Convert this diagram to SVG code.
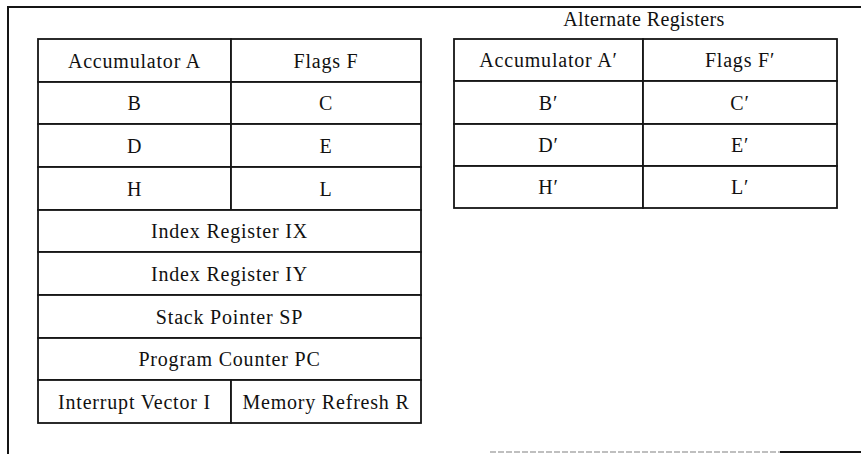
<svg xmlns="http://www.w3.org/2000/svg" width="861" height="454" viewBox="0 0 861 454">
<style>
  .cell { fill: #fff; stroke: #151515; stroke-width: 1.8; }
  .lbl { font-family: "Liberation Serif", "Times New Roman", serif; font-size: 20px; letter-spacing: 0.8px; fill: #111; text-anchor: middle; }
  .frame { fill: none; stroke: #151515; stroke-width: 2; }
</style>
<rect x="0" y="0" width="861" height="454" fill="#fff"/>
<g id="frame">
  <path class="frame" d="M8,454 V7 H861"/>
  <line x1="490" y1="452" x2="780" y2="452" stroke="#aaa" stroke-width="1.5" stroke-dasharray="6 2"/>
  <line x1="780" y1="452" x2="861" y2="452" stroke="#151515" stroke-width="2"/>
</g>
<g id="main-registers">
  <g id="reg-A"><rect class="cell" x="38" y="39" width="193" height="43"/><text class="lbl" x="134.5" y="67.5">Accumulator A</text></g>
  <g id="reg-F"><rect class="cell" x="231" y="39" width="190" height="43"/><text class="lbl" x="326" y="67.5">Flags F</text></g>
  <g id="reg-B"><rect class="cell" x="38" y="82" width="193" height="42"/><text class="lbl" x="134.5" y="110">B</text></g>
  <g id="reg-C"><rect class="cell" x="231" y="82" width="190" height="42"/><text class="lbl" x="326" y="110">C</text></g>
  <g id="reg-D"><rect class="cell" x="38" y="124" width="193" height="43"/><text class="lbl" x="134.5" y="152.5">D</text></g>
  <g id="reg-E"><rect class="cell" x="231" y="124" width="190" height="43"/><text class="lbl" x="326" y="152.5">E</text></g>
  <g id="reg-H"><rect class="cell" x="38" y="167" width="193" height="43"/><text class="lbl" x="134.5" y="195.5">H</text></g>
  <g id="reg-L"><rect class="cell" x="231" y="167" width="190" height="43"/><text class="lbl" x="326" y="195.5">L</text></g>
  <g id="reg-IX"><rect class="cell" x="38" y="210" width="383" height="42"/><text class="lbl" x="229.5" y="238">Index Register IX</text></g>
  <g id="reg-IY"><rect class="cell" x="38" y="252" width="383" height="43"/><text class="lbl" x="229.5" y="280.5">Index Register IY</text></g>
  <g id="reg-SP"><rect class="cell" x="38" y="295" width="383" height="43"/><text class="lbl" x="229.5" y="323.5">Stack Pointer SP</text></g>
  <g id="reg-PC"><rect class="cell" x="38" y="338" width="383" height="42"/><text class="lbl" x="229.5" y="366">Program Counter PC</text></g>
  <g id="reg-I"><rect class="cell" x="38" y="380" width="193" height="43"/><text class="lbl" x="134.5" y="408.5">Interrupt Vector I</text></g>
  <g id="reg-R"><rect class="cell" x="231" y="380" width="190" height="43"/><text class="lbl" x="326" y="408.5">Memory Refresh R</text></g>
</g>
<g id="alternate-registers">
  <text id="alt-title" class="lbl" x="644" y="26" style="letter-spacing:0.4px">Alternate Registers</text>
  <g id="reg-A2"><rect class="cell" x="454" y="39" width="189" height="42"/><text class="lbl" x="548.5" y="67">Accumulator A′</text></g>
  <g id="reg-F2"><rect class="cell" x="643" y="39" width="194" height="42"/><text class="lbl" x="740" y="67">Flags F′</text></g>
  <g id="reg-B2"><rect class="cell" x="454" y="81" width="189" height="43"/><text class="lbl" x="548.5" y="109.5">B′</text></g>
  <g id="reg-C2"><rect class="cell" x="643" y="81" width="194" height="43"/><text class="lbl" x="740" y="109.5">C′</text></g>
  <g id="reg-D2"><rect class="cell" x="454" y="124" width="189" height="42"/><text class="lbl" x="548.5" y="152">D′</text></g>
  <g id="reg-E2"><rect class="cell" x="643" y="124" width="194" height="42"/><text class="lbl" x="740" y="152">E′</text></g>
  <g id="reg-H2"><rect class="cell" x="454" y="166" width="189" height="42"/><text class="lbl" x="548.5" y="194">H′</text></g>
  <g id="reg-L2"><rect class="cell" x="643" y="166" width="194" height="42"/><text class="lbl" x="740" y="194">L′</text></g>
</g>
<g id="connectors"/>
</svg>
